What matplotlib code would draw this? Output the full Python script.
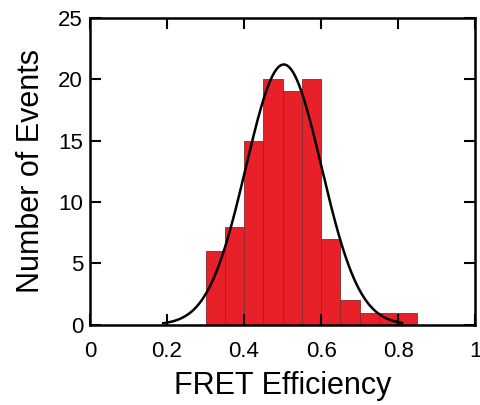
import numpy as np
import matplotlib.pyplot as plt

plt.rcParams['font.family'] = ['Liberation Sans', 'DejaVu Sans']

# histogram bins (left edges) and counts
bin_left = [0.30, 0.35, 0.40, 0.45, 0.50, 0.55, 0.60, 0.65, 0.70, 0.75, 0.80]
counts = [6, 8, 15, 20, 19, 20, 7, 2, 1, 1, 1]
bin_width = 0.05

# gaussian fit parameters
fit_amp = 21.2
fit_mu = 0.503
fit_sigma = 0.098

fig = plt.figure(figsize=(4.81, 4.05), dpi=100)
ax = fig.add_axes([0.187, 0.198, 0.801, 0.758])

ax.bar(bin_left, counts, width=bin_width, align='edge',
       color='#e8202a', edgecolor='#8a2a2a', linewidth=0.6)

x = np.linspace(0.19, 0.81, 400)
y = fit_amp * np.exp(-(x - fit_mu) ** 2 / (2 * fit_sigma ** 2))
ax.plot(x, y, color='black', linewidth=1.8)

ax.set_xlim(0, 1)
ax.set_ylim(0, 25)
ax.set_xticks([0, 0.2, 0.4, 0.6, 0.8, 1])
ax.set_xticklabels(['0', '0.2', '0.4', '0.6', '0.8', '1'])
ax.set_yticks([0, 5, 10, 15, 20, 25])

ax.tick_params(direction='in', top=True, right=True, length=8, width=1.5,
               labelsize=16)
ax.tick_params(axis='x', pad=12)
ax.tick_params(axis='y', pad=5)
for s in ax.spines.values():
    s.set_linewidth(1.8)

ax.set_xlabel('FRET Efficiency', fontsize=22, labelpad=6)
ax.set_ylabel('Number of Events', fontsize=22, labelpad=9)

fig.savefig('out.png', dpi=100)
